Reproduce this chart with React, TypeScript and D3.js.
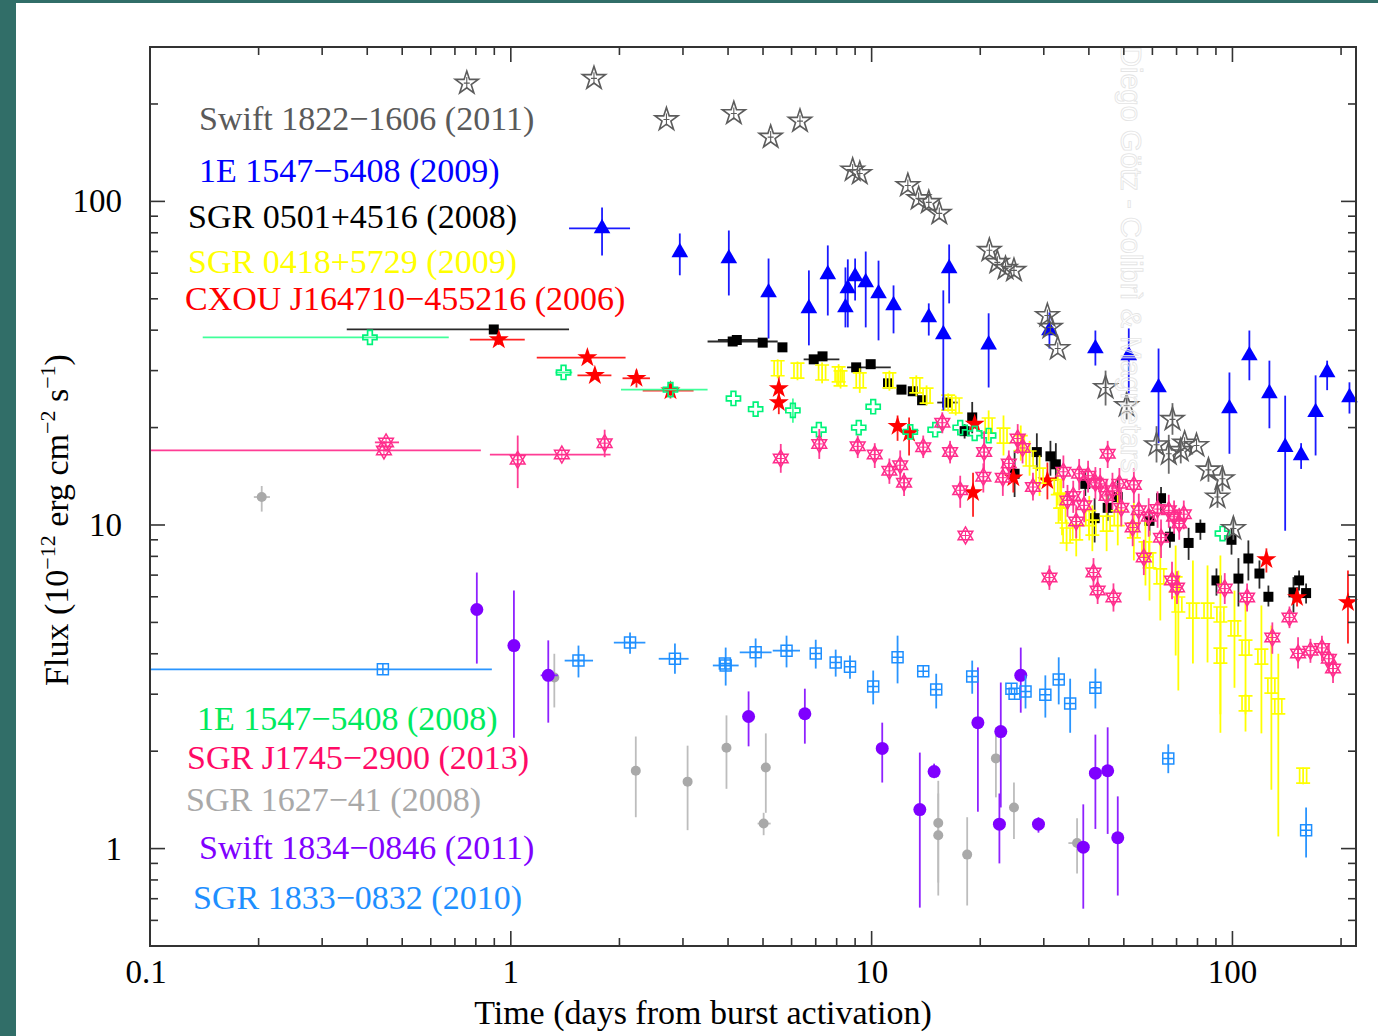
import React from 'react';
import * as d3 from 'd3';

// [time, flux, fluxLo, fluxHi, timeLo, timeHi]
type Pt = [number, number, (number | null)?, (number | null)?, number?, number?];

const swift1822: Pt[] = [
  [0.755, 232], [1.70, 240], [2.70, 179], [4.15, 187], [5.25, 158], [6.33, 177],
  [8.86, 125], [9.27, 122], [12.6, 112], [13.5, 102], [14.4, 99.3], [15.4, 91.8],
  [21.2, 70.6], [22.3, 64.8], [23.5, 62.1], [24.8, 61.2], [30.7, 44.4], [31.3, 40.8],
  [32.8, 35.1], [44.5, 26.6, 23.4, 30.0], [50.9, 23.4, 21.2, 25.8], [68.2, 21.2, 19.0, 23.8],
  [61.6, 17.7, 15.6, 20.2], [66.6, 16.6, 14.4, 19.0], [71.9, 17.0, 15.5, 18.6], [73.7, 17.9],
  [79.5, 17.6], [85.8, 14.8, 13.6, 16.0], [93.8, 13.9, 12.7, 15.2], [90.9, 12.2, 11.3, 13.2],
  [100.6, 9.75, 9.0, 10.6],
];

const e1547_2009: Pt[] = [
  [1.79, 82.5, 68.1, 95.8, 1.45, 2.14], [2.94, 69.6, 59.1, 79.6], [4.02, 66.6, 51.2, 81.3],
  [5.18, 52.3, 37.7, 66.6], [6.70, 46.7, 35.9, 61.2], [7.56, 59.5, 44.4, 73.1],
  [8.59, 53.8, 40.8, 66.2], [8.46, 47.0, 40.8, 62.5], [9.00, 58.6, 49.4, 66.6],
  [9.63, 56.2, 40.8, 70.0], [10.45, 51.9, 37.2, 65.6], [11.5, 47.7, 39.1, 55.0],
  [14.4, 43.8, 38.5, 48.4], [15.8, 38.8, 22.6, 53.1], [16.4, 62.1, 48.4, 73.6],
  [21.1, 36.1, 26.6, 45.1], [31.1, 39.9, 35.1, 45.4], [41.7, 35.1, 31.1, 39.9],
  [51.6, 33.4, 25.5, 40.5], [62.4, 26.6, 17.9, 35.1], [98.1, 22.9, 16.6, 29.6],
  [111.4, 33.4, 28.0, 39.9], [126.6, 25.5, 19.9, 32.2], [140, 17.4, 9.6, 25.1],
  [155, 16.4, 14.9, 17.9], [170, 22.3, 16.4, 29.0], [183, 29.6, 26.1, 32.2],
  [211, 24.8, 22.1, 27.6],
];

const sgr0501: Pt[] = [
  [0.897, 40.2, null, null, 0.351, 1.45], [4.12, 36.9, null, null, 3.51, 5.49],
  [4.23, 37.3, null, null, 3.75, 5.0], [4.99, 36.6], [5.66, 35.4],
  [6.91, 32.5, null, null, 6.48, 8.14], [7.31, 33.2], [9.06, 30.7, null, null, 8.55, 11.3],
  [9.94, 31.4], [11.1, 27.4], [12.1, 26.2], [13.0, 25.9], [13.8, 24.3],
  [16.2, 23.9, null, null, 15.2, 17.3], [18.1, 19.5, 18.5, 20.5], [19.0, 21.5, 19.2, 24.0],
  [24.9, 14.4, 12.2, 17.0], [28.7, 16.8, 14.7, 19.2], [31.3, 16.3, 14.2, 18.2],
  [32.4, 15.4, 13.7, 17.9], [39.1, 13.4, 12.3, 14.7], [41.5, 10.5, 8.83, 12.1],
  [45.1, 11.3, 10.3, 12.5], [48.1, 12.2, 11.3, 14.0], [63.4, 12.1, 10.85, 13.1],
  [58.9, 10.3, 9.28, 11.2], [67.1, 9.2, 8.5, 9.9], [75.6, 8.8, 7.8, 9.8],
  [81.5, 9.8, 9.0, 10.4], [99.4, 9.0, 8.1, 9.8], [90.3, 6.74, 6.05, 7.34],
  [103.9, 6.83, 5.6, 7.9], [110.7, 7.88, 6.74, 8.96], [118.8, 7.08, 6.36, 7.77],
  [125.8, 6.0, 5.6, 6.5], [147.6, 6.19, 5.36, 6.9], [153, 6.74, 6.27, 7.23],
  [160, 6.16, 5.72, 6.6],
];

const sgr0418: Pt[] = [
  [5.49, 30.5, 28.4, 32.5], [6.23, 30.0, 28.0, 32.0], [7.29, 29.6, 27.4, 31.8],
  [8.10, 29.2, 27.0, 31.4], [8.20, 28.4, 26.4, 30.5], [9.27, 28.0, 25.6, 30.5],
  [11.2, 28.0, 26.0, 30.0], [13.3, 27.0, 25.0, 29.0], [14.2, 25.1, 23.4, 27.0],
  [16.3, 23.9, 22.4, 25.5], [17.1, 23.4, 21.8, 25.1], [21.1, 20.3, 18.2, 22.6],
  [23.2, 18.9, 16.4, 21.8], [25.9, 17.9, 15.8, 20.3], [27.4, 16.05, 14.2, 18.2],
  [29.2, 14.2, 12.3, 16.4], [32.8, 13.1, 11.5, 15.0], [33.3, 11.9, 10.3, 13.7],
  [33.7, 10.7, 9.3, 12.3], [34.7, 9.28, 8.3, 10.4], [36.9, 9.49, 8.0, 11.3],
  [40.1, 10.5, 8.96, 12.3], [40.9, 9.82, 8.3, 11.5], [44.8, 10.1, 8.3, 12.3],
  [48.1, 10.5, 8.65, 12.8], [53.3, 9.62, 7.77, 11.9], [57.4, 8.41, 6.5, 10.4],
  [58.9, 7.77, 5.84, 9.6], [63.1, 6.94, 5.07, 8.96], [69.6, 6.55, 3.95, 8.64],
  [70.8, 5.68, 3.08, 7.23], [77.7, 5.44, 3.73, 7.77], [85.3, 5.44, 3.76, 7.5],
  [92.6, 5.29, 2.28, 8.05], [92.6, 3.95, 2.6, 5.4], [101.3, 4.79, 3.14, 6.27],
  [108.7, 4.18, 2.3, 5.84], [108.7, 2.81, 2.6, 3.0], [120.3, 3.92, 2.27, 5.64],
  [128.2, 3.19, 1.52, 4.89], [134, 2.75, 1.09, 4.0], [157, 1.68, 1.58, 1.78],
];

const cxou: Pt[] = [
  [0.926, 37.4, 36.0, 38.8, 0.77, 1.093], [1.63, 32.9, null, null, 1.18, 2.08],
  [1.71, 29.0, null, null, 1.53, 1.90], [2.23, 28.4, 26.6, 30.2, 2.04, 2.43],
  [2.77, 26.0, 24.6, 27.6, 2.32, 3.21], [5.53, 26.4, 24.5, 29.0], [5.53, 23.9, 22.0, 25.6],
  [11.8, 20.2, 18.2, 21.8], [12.7, 19.2, 16.4, 21.5], [19.3, 20.5], [19.1, 12.6, 10.6, 14.5],
  [24.7, 14.0, 12.6, 15.5], [30.7, 13.7, 12.0, 15.6], [124.2, 7.82, 7.13, 8.47],
  [151, 5.97, 5.6, 6.4], [209, 5.76, 4.3, 7.23],
];

const e1547_2008: Pt[] = [
  [0.407, 38.0, null, null, 0.14, 0.673], [1.40, 29.6, null, null, 1.33, 1.48],
  [2.77, 26.2, null, null, 2.02, 3.51], [4.14, 24.6], [4.77, 22.8], [6.05, 22.6, 20.7, 24.6],
  [7.14, 19.7], [9.21, 20.0], [10.1, 23.2], [12.8, 19.4], [15.0, 19.7], [17.6, 20.0],
  [19.3, 19.2], [21.1, 18.9], [93.8, 9.41],
];

const j1745: Pt[] = [
  [0.445, 17.0, null, null, 0.1, 0.826], [0.451, 18.0, null, null, 0.42, 0.49],
  [1.045, 15.9, 13.0, 18.9], [1.385, 16.5, null, null, 0.875, 1.89], [1.82, 17.9, 16.2, 19.7],
  [5.60, 16.05, 14.5, 17.8], [7.16, 17.8, 16.0, 19.8], [9.15, 17.5, 16.1, 18.9],
  [10.2, 16.5, 15.0, 17.9], [11.2, 14.7, 13.4, 16.05], [12.0, 15.3, 13.7, 17.0],
  [12.3, 13.5, 12.3, 14.5], [13.9, 17.4, 16.1, 18.9], [15.7, 20.7, 19.2, 22.3],
  [16.5, 16.8, 15.5, 18.2], [17.6, 12.8, 11.3, 14.2], [18.2, 9.28], [20.4, 14.1, 12.6, 15.5],
  [20.5, 16.8, 14.9, 19.5], [23.1, 14.0, 12.3, 15.8], [24.0, 15.5, 14.0, 17.0],
  [25.4, 18.5, 16.6, 20.5], [26.2, 17.3, 15.5, 19.0], [28.0, 13.1, 11.9, 14.5],
  [31.1, 6.88, 6.3, 7.5], [34.0, 14.6, 13.0, 16.4], [34.9, 11.9, 10.6, 13.3],
  [36.2, 12.3, 10.9, 13.7], [36.9, 10.25, 9.1, 11.5], [37.6, 14.4, 12.8, 16.0],
  [39.8, 14.2, 12.6, 15.8], [38.8, 11.5, 10.2, 12.8], [41.7, 13.5, 12.0, 15.1],
  [43.0, 13.4, 11.9, 15.0], [45.1, 16.6, 15.0, 18.2], [44.8, 12.3, 10.9, 13.8],
  [46.5, 12.8, 11.2, 14.5], [48.6, 13.4, 11.8, 15.0], [49.2, 11.3, 9.9, 12.8],
  [52.9, 9.82, 8.6, 11.1], [53.3, 13.3, 11.7, 15.0], [55.0, 11.1, 9.7, 12.5],
  [56.8, 7.94, 7.0, 9.0], [58.6, 10.6, 9.2, 12.1], [62.0, 11.2, 9.8, 12.7],
  [63.4, 9.14, 7.9, 10.4], [66.6, 11.1, 9.8, 12.4], [68.9, 10.6, 9.4, 11.9],
  [71.2, 10.1, 9.0, 11.3], [73.3, 10.8, 9.7, 11.9], [41.2, 7.13, 6.4, 7.9],
  [42.3, 6.27, 5.7, 6.9], [46.8, 5.97, 5.4, 6.6], [68.0, 6.74, 5.9, 7.7],
  [70.2, 6.41, 5.7, 7.2], [95.2, 6.36, 5.7, 7.1], [109.8, 5.97, 5.4, 6.6],
  [129, 4.49, 4.0, 5.0], [143.9, 5.18, 4.8, 5.6], [152, 4.01, 3.6, 4.5],
  [164.5, 4.09, 3.75, 4.45], [177, 4.17, 3.8, 4.55], [185, 3.86, 3.5, 4.3],
  [190, 3.60, 3.25, 4.0],
];

const sgr1627: Pt[] = [
  [0.204, 12.2, 11.0, 13.2, 0.194, 0.215], [1.32, 3.38, 2.73, 4.0], [2.22, 1.74, 1.25, 2.22],
  [3.09, 1.61, 1.14, 2.08], [3.96, 2.05, 1.53, 2.58], [5.09, 1.78, 1.29, 2.27],
  [5.02, 1.195, 1.10, 1.29, 4.83, 5.25], [15.3, 1.20, 0.716, 1.48], [15.3, 1.10, 0.785, 1.62],
  [18.4, 0.958, 0.667, 1.25], [22.1, 1.90, 1.44, 2.37], [24.8, 1.34, 1.07, 1.60],
  [37.1, 1.04, 0.837, 1.24, 35.1, 38.4],
];

const swift1834: Pt[] = [
  [0.805, 5.48, 3.73, 7.13], [1.02, 4.24, 2.20, 6.27], [1.27, 3.43, 2.45, 4.40, 1.21, 1.35],
  [4.56, 2.56, 2.07, 3.06], [6.53, 2.61, 2.11, 3.12], [10.7, 2.04, 1.60, 2.45],
  [13.6, 1.32, 0.657, 1.98], [14.9, 1.73, 1.65, 1.83], [19.7, 2.45, 1.30, 3.63],
  [22.8, 2.30, 1.34, 3.26], [22.6, 1.19, 0.90, 1.48], [25.9, 3.43, 2.63, 4.18],
  [29.0, 1.19, 1.12, 1.25], [38.6, 1.01, 0.652, 1.37], [41.7, 1.71, 1.15, 2.25],
  [45.1, 1.74, 1.11, 2.37], [48.1, 1.08, 0.716, 1.45],
];

const sgr1833: Pt[] = [
  [0.442, 3.58, null, null, 0.1, 0.886], [1.54, 3.81, 3.38, 4.24, 1.41, 1.69],
  [2.14, 4.33, 4.00, 4.65, 1.93, 2.36], [2.85, 3.86, 3.47, 4.30, 2.57, 3.11],
  [3.92, 3.73], [3.94, 3.68, 3.19, 4.18, 3.63, 4.28], [4.77, 4.04, 3.63, 4.46, 4.31, 5.28],
  [5.81, 4.09, 3.63, 4.55, 5.32, 6.33], [7.0, 4.01, 3.60, 4.42], [7.95, 3.76, 3.40, 4.12],
  [8.71, 3.65, 3.35, 3.95], [10.1, 3.17, 2.79, 3.55], [11.8, 3.90, 3.24, 4.55],
  [13.9, 3.53], [15.1, 3.10, 2.71, 3.47], [19.0, 3.40, 3.01, 3.81], [24.4, 3.12],
  [24.9, 3.01], [26.7, 3.06, 2.71, 3.43], [30.3, 2.99, 2.54, 3.43], [33.0, 3.33, 2.79, 3.90],
  [35.5, 2.81, 2.28, 3.35], [41.7, 3.14, 2.71, 3.60], [66.4, 1.90, 1.71, 2.10],
  [160, 1.14, 0.938, 1.34],
];

const legendTop = ['Swift 1822\u22121606 (2011)', '1E 1547\u22125408 (2009)', 'SGR 0501+4516 (2008)',
  'SGR 0418+5729 (2009)', 'CXOU J164710\u2212455216 (2006)'];
const legendBottom = ['1E 1547\u22125408 (2008)', 'SGR J1745\u22122900 (2013)', 'SGR 1627\u221241 (2008)',
  'Swift 1834\u22120846 (2011)', 'SGR 1833\u22120832 (2010)'];
const xTickLabels = ['0.1', '1', '10', '100'];
const yTickLabels = ['1', '10', '100'];

const W = 1378;
const H = 1036;
const L = 150, R = 1356, T = 47, B = 946;

const x = d3.scaleLog().domain([0.1, 220]).range([L, R]);
const y = d3.scaleLog().domain([0.5, 300]).range([B, T]);

const serif = '"Liberation Serif", "Times New Roman", serif';

const starOpen = d3.symbol(d3.symbolStar, 165)();
const starFill = d3.symbol(d3.symbolStar, 125)();
const tri = d3.symbol(d3.symbolTriangle, 120)();
const sq = d3.symbol(d3.symbolSquare, 100)();
const plus = d3.symbol(d3.symbolCross, 110)();

const triPts = (r: number, a0: number) =>
  [0, 120, 240].map((k) => {
    const t = ((a0 + k) * Math.PI) / 180;
    return `${(r * Math.cos(t)).toFixed(2)},${(r * Math.sin(t)).toFixed(2)}`;
  });
const hex = (r: number) => `M${triPts(r, -90).join('L')}Z M${triPts(r, 90).join('L')}Z`;
const hexPath = hex(8.5);

function Marker({ kind, color }: { kind: string; color: string }) {
  switch (kind) {
    case 'starOpen':
      return (
        <g>
          <path d={starOpen} fill="none" stroke={color} strokeWidth={1.6} />
          <path d="M0,-6V6M-3,0H3" stroke={color} strokeWidth={1.1} />
        </g>
      );
    case 'starFill':
      return <path d={starFill} fill={color} />;
    case 'tri':
      return <path d={tri} fill={color} />;
    case 'square':
      return <path d={sq} fill={color} />;
    case 'yellow':
      return <path d="M-7,-7.5H7M-7,7.5H7M-3.5,-7.5V7.5M3.5,-7.5V7.5" fill="none" stroke={color} strokeWidth={1.7} />;
    case 'plus':
      return <path d={plus} fill="none" stroke={color} strokeWidth={1.7} />;
    case 'hex':
      return (
        <g>
          <path d={hexPath} fill="none" stroke={color} strokeWidth={1.5} />
          <path d="M0,-5V5M-4,0H4" stroke={color} strokeWidth={1} />
        </g>
      );
    case 'dotS':
      return <circle r={5} fill={color} />;
    case 'dotL':
      return <circle r={6.5} fill={color} />;
    case 'box':
      return <path d="M-5.5,-5.5h11v11h-11z M0,-5.5V5.5 M-5.5,0H5.5" fill="none" stroke={color} strokeWidth={1.5} />;
    default:
      return null;
  }
}

const seriesSpec = [
  { data: sgr1627, color: '#a9a9a9', bar: '#bdbdbd', kind: 'dotS' },
  { data: swift1834, color: '#7f00ff', bar: '#8f22ff', kind: 'dotL' },
  { data: sgr1833, color: '#1e8fff', bar: '#2a95ff', kind: 'box' },
  { data: sgr0501, color: '#000000', bar: '#2a2a2a', kind: 'square' },
  { data: cxou, color: '#ff0000', bar: '#ff2020', kind: 'starFill' },
  { data: sgr0418, color: '#ffff00', bar: '#ffff00', kind: 'yellow' },
  { data: e1547_2008, color: '#00f37a', bar: '#40ff9a', kind: 'plus' },
  { data: j1745, color: '#ff2d8c', bar: '#ff3d95', kind: 'hex' },
  { data: e1547_2009, color: '#0000ff', bar: '#1a1aff', kind: 'tri' },
  { data: swift1822, color: '#5c5c5c', bar: '#6a6a6a', kind: 'starOpen' },
];

const legendTopColors = ['#5a5a5a', '#0000ff', '#000000', '#ffff00', '#ff0000'];
const legendBottomColors = ['#00ea5e', '#ff0a66', '#a9a9a9', '#8000ff', '#1e8fff'];
const legendTopPos = [[199, 130], [199, 182], [188, 228], [188, 273], [185, 310]];
const legendBottomPos = [[197, 730], [187, 769], [186, 811], [199, 859], [193, 909]];

export default function App() {
  const xt = x.ticks().filter((v) => v > 0.1 && v < 220);
  const yt = y.ticks().filter((v) => v > 0.5 && v < 300);
  const isMajor = (v: number) => Math.abs(Math.log10(v) - Math.round(Math.log10(v))) < 1e-9;
  const axisColor = '#333';

  return (
    <div style={{ position: 'absolute', left: 0, top: 0 }}>
      <svg width={W} height={H} style={{ display: 'block' }}>
        <rect x={0} y={0} width={W} height={H} fill="#316e68" />
        <rect x={16} y={3} width={W - 16} height={H - 3} fill="#ffffff" />

        {/* error bars then markers */}
        {seriesSpec.map((s, si) => (
          <g key={si}>
            <g stroke={s.bar} strokeWidth={1.8}>
              {s.data.map((d, i) => (
                <g key={i}>
                  {d[2] != null && d[3] != null && (
                    <line x1={x(d[0])} x2={x(d[0])} y1={y(d[2] as number)} y2={y(d[3] as number)} />
                  )}
                  {d[4] != null && d[5] != null && (
                    <line x1={x(d[4] as number)} x2={x(d[5] as number)} y1={y(d[1])} y2={y(d[1])} />
                  )}
                </g>
              ))}
            </g>
            {s.data.map((d, i) => (
              <g key={i} transform={`translate(${x(d[0])},${y(d[1])})`}>
                <Marker kind={s.kind} color={s.color} />
              </g>
            ))}
          </g>
        ))}

        {/* watermark */}
        <text
          transform="translate(1121,46) rotate(90)"
          fontFamily='"Liberation Sans", Arial, sans-serif'
          fontSize={29}
          fill="#ffffff"
          fillOpacity={0.4}
          stroke="#e4e4e4"
          strokeWidth={0.8}
        >
          Diego Götz - Colibrì &amp; Magnetars
        </text>

        {/* frame and ticks */}
        <rect x={L} y={T} width={R - L} height={B - T} fill="none" stroke={axisColor} strokeWidth={2} />
        <g stroke={axisColor} strokeWidth={1.6}>
          {xt.map((v, i) => {
            const len = isMajor(v) ? 15 : 8;
            return (
              <g key={i}>
                <line x1={x(v)} x2={x(v)} y1={B} y2={B - len} />
                <line x1={x(v)} x2={x(v)} y1={T} y2={T + len} />
              </g>
            );
          })}
          {yt.map((v, i) => {
            const len = isMajor(v) ? 15 : 8;
            return (
              <g key={i}>
                <line x1={L} x2={L + len} y1={y(v)} y2={y(v)} />
                <line x1={R} x2={R - len} y1={y(v)} y2={y(v)} />
              </g>
            );
          })}
        </g>

        <g fontFamily={serif} fontSize={33} fill="#000">
          {xTickLabels.map((t) => (
            <text key={t} x={x(+t) - (t === '0.1' ? 4 : 0)} y={983} textAnchor="middle">{t}</text>
          ))}
          {yTickLabels.map((t) => (
            <text key={t} x={122} y={y(+t) + 11} textAnchor="end">{t}</text>
          ))}
        </g>

        <text x={703} y={1024} textAnchor="middle" fontFamily={serif} fontSize={34}>
          Time (days from burst activation)
        </text>
        <text transform="translate(68,520) rotate(-90)" textAnchor="middle" fontFamily={serif} fontSize={34}>
          Flux (10<tspan dy={-13} fontSize={22}>{'\u221212'}</tspan>
          <tspan dy={13}> erg cm</tspan><tspan dy={-13} fontSize={22}>{'\u22122'}</tspan>
          <tspan dy={13}> s</tspan><tspan dy={-13} fontSize={22}>{'\u22121'}</tspan>
          <tspan dy={13}>)</tspan>
        </text>

        <g fontFamily={serif} fontSize={34}>
          {legendTop.map((t, i) => (
            <text key={t} x={legendTopPos[i][0]} y={legendTopPos[i][1]} fill={legendTopColors[i]}>{t}</text>
          ))}
          {legendBottom.map((t, i) => (
            <text key={t} x={legendBottomPos[i][0]} y={legendBottomPos[i][1]} fill={legendBottomColors[i]}>{t}</text>
          ))}
        </g>
      </svg>
    </div>
  );
}
